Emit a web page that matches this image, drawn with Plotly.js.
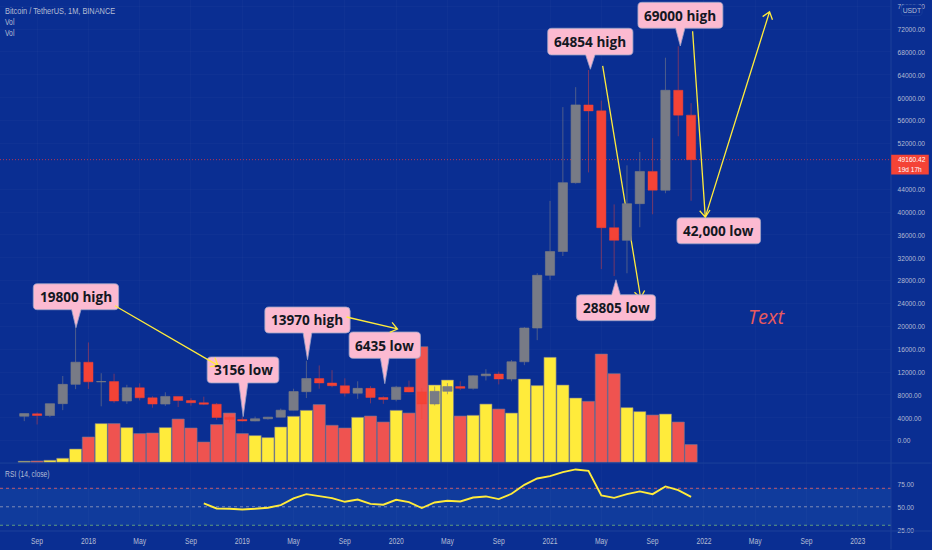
<!DOCTYPE html>
<html><head><meta charset="utf-8">
<script src="https://cdn.plot.ly/plotly-3.0.1.min.js"></script>
<style>html,body{margin:0;padding:0;background:#0a2e92;overflow:hidden}#c{width:932px;height:550px}</style>
</head><body><div id="c"></div>
<script>
// ---- data, monthly from Aug 2017 ----
const months=[...Array(53).keys()];
const open=[4261,4689,4378,6463,9837,13715,10285,10325,6922,9246,7485,6391,7730,7011,6626,6370,4041,3701,3434,3816,4102,5320,8555,10854,10080,9600,8289,9140,7540,7195,9351,8523,6410,8620,9448,9138,11335,11650,10776,13791,19700,28923,33092,45134,58739,57697,37253,35045,41461,47100,43820,61299,56950];
const high=[4745,4939,6470,11300,19798,17176,11786,11700,9759,10020,7754,8450,7750,7410,7680,6586,4234,4143,4198,4140,5600,9074,13970,13147,12325,10900,10370,9530,7750,9578,10500,9188,9460,10067,10380,11444,12486,12067,14100,19863,29300,41950,58352,61844,64854,59500,41330,48168,50500,52920,67000,69000,59053];
const low=[3400,2817,4110,5325,9000,9035,6000,6600,6425,7034,5750,6070,5880,6100,6200,3652,3156,3349,3373,3670,4067,5350,7440,9080,9320,7710,7300,6515,6435,6871,8445,3782,6150,8117,8833,8913,10518,9825,10374,13195,17572,28130,32296,44961,46930,30000,28805,29278,37332,39600,43283,53256,41967];
const close=[4724,4378,6463,9838,13716,10285,10326,6923,9246,7485,6390,7730,7012,6626,6371,4041,3702,3434,3816,4102,5320,8574,10854,10080,9600,8289,9140,7541,7195,9352,8523,6410,8620,9448,9138,11335,11650,10776,13791,19700,28923,33092,45135,58740,57694,37253,35045,41461,47100,43824,61299,56950,49160];
const volume=[18,23,36,72,239,455,697,697,625,517,527,625,779,617,365,679,887,517,481,445,635,828,936,1039,666,617,810,833,725,936,887,2083,1391,1481,833,846,1049,959,887,1499,1381,1890,1391,1157,1098,1949,1597,985,913,851,869,725,319];
const rsiStart=14;
const rsi=[53.6,48.2,47.8,47.1,47.8,48.9,51.8,59,63.7,61.2,59.4,55.4,57.9,53.2,52.2,57.6,55,48.6,54.7,56.5,55.8,60,61.2,58.3,64.1,73.8,80.6,83.2,87.5,90.4,88.9,62.3,59.7,63.7,66.6,63.7,72,68,60.8];
const xTicks=[1,5,9,13,17,21,25,29,33,37,41,45,49,53,57,61,65];
const xLabels=['Sep','2018','May','Sep','2019','May','Sep','2020','May','Sep','2021','May','Sep','2022','May','Sep','2023'];
const priceTicks=[0,4000,8000,12000,16000,20000,24000,28000,32000,36000,40000,44000,52000,56000,60000,64000,68000,72000,76000];
const rsiTicks=[25,50,75];
const lastPrice=49160.42;

// ---- page geometry ----
const W=932,H=550,R=891.5,B=531.5,S=463.5;
const BG='#0a2e92',TXT='#b4bdd4',GRID='rgba(255,255,255,0.025)',SEP='#1c409a';
const FONT='"Liberation Sans",sans-serif';
const fx=p=>p/R, fy=p=>1-p/B;                // page pixels -> paper fractions
const P=(x,y)=>fx(x).toFixed(5)+','+fy(y).toFixed(5);

function callout(b){ // rounded box with optional tail
  const r=4,[x0,y0,x1,y1]=b.box;let d='M'+P(x0+r,y0);
  if(b.tail&&b.tail[1]<y0){const [tx,ty,a,c]=b.tail;d+='L'+P(a,y0)+'L'+P(tx,ty)+'L'+P(c,y0);}
  d+='L'+P(x1-r,y0)+'Q'+P(x1,y0)+' '+P(x1,y0+r)+'L'+P(x1,y1-r)+'Q'+P(x1,y1)+' '+P(x1-r,y1);
  if(b.tail&&b.tail[1]>y1){const [tx,ty,a,c]=b.tail;d+='L'+P(c,y1)+'L'+P(tx,ty)+'L'+P(a,y1);}
  d+='L'+P(x0+r,y1)+'Q'+P(x0,y1)+' '+P(x0,y1-r)+'L'+P(x0,y0+r)+'Q'+P(x0,y0)+' '+P(x0+r,y0)+'Z';
  return d;
}
const notes=[
 {t:'19800 high',box:[33.3,284,118.7,310],tail:[76,328,71.7,81]},
 {t:'3156 low',box:[207.3,357.3,279,383.3],tail:[243.3,417,239,248]},
 {t:'13970 high',box:[265,307.3,350.3,333.3],tail:[307.7,360,303.3,312]},
 {t:'6435 low',box:[349.3,332.3,420.7,358.7],tail:[385,384,380.7,389.3]},
 {t:'64854 high',box:[548,28.3,633.3,55],tail:[590.7,69.3,586,595.3]},
 {t:'69000 high',box:[638.3,2.3,723.3,28.3],tail:[680.7,46,676,685.3]},
 {t:'42,000 low',box:[677.3,218,761,244]},
 {t:'28805 low',box:[576.7,295,656,321],tail:[616.3,280,612,620.7]}
];
const arrows=[
 {a:[115,306],b:[218.3,366]},
 {a:[346.7,317.3],b:[397.7,329.3]},
 {a:[603,66],b:[641,298.3],below:1},
 {a:[693,31.3],b:[705.7,217.3]},
 {a:[705.7,217.3],b:[770,11.7]}
];
function arrowPath(k){
  const [x0,y0]=k.a,[x1,y1]=k.b;let d='M'+P(x0,y0)+'L'+P(x1,y1);
  const ang=Math.atan2(y1-y0,x1-x0),L=8.5,w=0.65;
  d+='M'+P(x1-L*Math.cos(ang-w),y1-L*Math.sin(ang-w))+'L'+P(x1,y1)+'L'+P(x1-L*Math.cos(ang+w),y1-L*Math.sin(ang+w));
  return d;
}
const shapes=[
 {type:'rect',xref:'paper',yref:'y2',x0:0,x1:1,y0:30,y1:70,fillcolor:'rgba(40,110,190,0.22)',line:{width:0},layer:'below'},
 {type:'line',xref:'paper',yref:'y2',x0:0,x1:1,y0:70,y1:70,line:{color:'#c25a6e',width:1,dash:'3px,3px'},layer:'below'},
 {type:'line',xref:'paper',yref:'y2',x0:0,x1:1,y0:50,y1:50,line:{color:'#7f8cb4',width:1,dash:'3px,3px'},layer:'below'},
 {type:'line',xref:'paper',yref:'y2',x0:0,x1:1,y0:30,y1:30,line:{color:'#5e9a80',width:1,dash:'3px,3px'},layer:'below'},
 {type:'line',xref:'paper',yref:'y3',x0:0,x1:1,y0:lastPrice,y1:lastPrice,line:{color:'#b8354e',width:1,dash:'1px,2px'},layer:'below'},
 {type:'line',xref:'paper',yref:'paper',x0:1,x1:1,y0:fy(H),y1:1,line:{color:SEP,width:1},layer:'above'},
 {type:'line',xref:'paper',yref:'paper',x0:0,x1:W/R,y0:fy(S),y1:fy(S),line:{color:SEP,width:1},layer:'above'},
 {type:'line',xref:'paper',yref:'paper',x0:0,x1:W/R,y0:0,y1:0,line:{color:SEP,width:1},layer:'above'}
];
notes.forEach(n=>shapes.push({type:'path',xref:'paper',yref:'paper',path:callout(n),fillcolor:'#fcbad1',line:{color:'#9aa3c8',width:0.8},layer:'above'}));
arrows.forEach(k=>shapes.push({type:'path',xref:'paper',yref:'paper',path:arrowPath(k),line:{color:'#ffeb3b',width:1.3},layer:k.below?'below':'above'}));
shapes.push({type:'rect',xref:'paper',yref:'paper',x0:fx(891.7),x1:fx(929.3),y0:fy(155),y1:fy(174.7),fillcolor:'#f44336',line:{width:0},layer:'above'});
shapes.push({type:'path',xref:'paper',yref:'paper',path:callout({box:[901.7,4.7,922.7,15.7]}),fillcolor:BG,line:{color:'#1c3f9a',width:0.8},layer:'above'});

const ann=(text,x,y,o={})=>Object.assign({xref:'paper',yref:'paper',x:fx(x),y:fy(y),text,showarrow:false,xanchor:'left',yanchor:'middle',
  font:{family:FONT,size:9,color:TXT},borderpad:0},o);
const annotations=[
 ann('Bitcoin / TetherUS, 1M, BINANCE',4.5,11),
 ann('Vol',4.5,22),ann('Vol',4.5,33),
 ann('RSI (14, close)',4.5,474),
 ann('USDT',912.2,10.2,{xanchor:'center',font:{family:FONT,size:8,color:TXT}}),
 ann('49160.42',897.5,160,{font:{family:FONT,size:8.1,color:'#fff'}}),
 ann('19d 17h',897.5,169.5,{font:{family:FONT,size:8.1,color:'#fff'}}),
 ann('<i>Text</i>',747,317,{font:{family:'"Open Sans"',size:20,color:'#e85a5e'}})
];
notes.forEach(n=>annotations.push(ann('<b>'+n.t+'</b>',(n.box[0]+n.box[2])/2,(n.box[1]+n.box[3])/2,{xanchor:'center',font:{family:'"Open Sans"',size:13.6,color:'#131722'}})));

const vols={type:'bar',x:months,y:volume,xaxis:'x',yaxis:'y',
  marker:{color:months.map(i=>close[i]>=open[i]?'#ffeb3b':'#ef5350'),line:{color:'rgba(115,120,150,0.75)',width:0.8}},hoverinfo:'skip'};
const candles={type:'candlestick',x:months,open,high,low,close,xaxis:'x',yaxis:'y3',whiskerwidth:0,
  increasing:{fillcolor:'#787b86',line:{color:'rgba(120,123,134,0.62)',width:1}},
  decreasing:{fillcolor:'#f44336',line:{color:'rgba(244,67,54,0.45)',width:1}},hoverinfo:'skip'};
const rsiLine={type:'scatter',mode:'lines',x:rsi.map((_,i)=>i+rsiStart),y:rsi,xaxis:'x',yaxis:'y2',line:{color:'#ffeb3b',width:1.9},hoverinfo:'skip'};

const pane=S/B;
const rightFont={family:FONT,size:8.1,color:TXT};
const layout={width:W,height:H,showlegend:false,paper_bgcolor:BG,plot_bgcolor:BG,
 margin:{l:0,r:W-R,t:0,b:H-B,pad:0},bargap:0.05,boxgap:0.28,boxgroupgap:0,
 xaxis:{domain:[0,1],anchor:'y2',range:[-1.894,67.59],tickmode:'array',tickvals:xTicks,ticktext:xLabels,showgrid:true,gridcolor:GRID,zeroline:false,showline:false,
   rangeslider:{visible:false},ticks:'outside',ticklen:1,tickcolor:'rgba(0,0,0,0)',tickfont:{family:FONT,size:9,color:TXT}},
 yaxis:{domain:[1-pane,1],anchor:'x',side:'left',range:[-14.4,8329],visible:false,showgrid:false,zeroline:false},
 yaxis2:{domain:[0,1-pane],anchor:'x',side:'right',range:[23.8,97.3],tickmode:'array',tickvals:rsiTicks,ticktext:rsiTicks.map(v=>v.toFixed(2)),showgrid:false,zeroline:false,
   ticks:'outside',ticklen:4,tickcolor:'rgba(0,0,0,0)',tickfont:rightFont},
 yaxis3:{overlaying:'y',anchor:'x',side:'right',range:[-3934,77098],tickmode:'array',tickvals:priceTicks,ticktext:priceTicks.map(v=>v.toFixed(2)),showgrid:true,gridcolor:GRID,zeroline:false,
   ticks:'outside',ticklen:4,tickcolor:'rgba(0,0,0,0)',tickfont:rightFont},
 shapes,annotations};
Plotly.newPlot('c',[vols,candles,rsiLine],layout,{staticPlot:true,displayModeBar:false}).then(()=>{
  // the reference's small interface type is narrow: condense these labels horizontally
  const narrow=(t,k,left)=>{const n=t.getComputedTextLength();t.setAttribute('textLength',(n*k).toFixed(1));t.setAttribute('lengthAdjust','spacingAndGlyphs');
    if(left)t.setAttribute('x',(parseFloat(t.getAttribute('x')||0)-n*(1-k)/2).toFixed(2));};
  document.querySelectorAll('.xtick text').forEach(t=>narrow(t,0.75));
  document.querySelectorAll('.y2tick text,.y3tick text').forEach(t=>narrow(t,0.81));
  document.querySelectorAll('.annotation-text').forEach(t=>{
    const s=t.textContent;
    if(s.indexOf('high')>=0||s.indexOf('low')>=0||s==='Text')return;
    if(s==='USDT'){narrow(t,0.85);return;}
    if(s==='49160.42'||s==='19d 17h'){narrow(t,0.81,true);return;}
    narrow(t,s.indexOf('Bitcoin')===0?0.82:0.75,true);
  });
});
</script></body></html>
